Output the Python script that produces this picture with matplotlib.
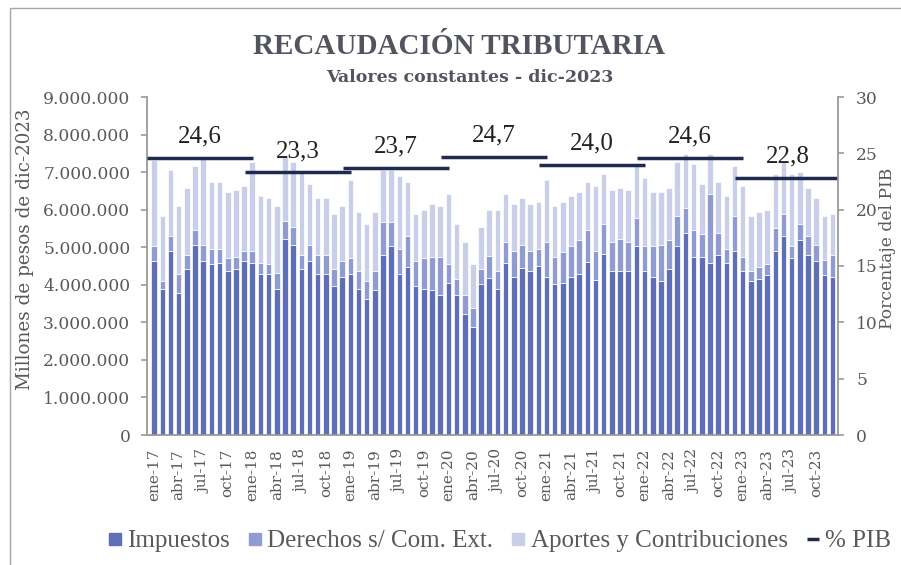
import numpy as np
import matplotlib
matplotlib.use("Agg")
import matplotlib.pyplot as plt
from matplotlib.lines import Line2D
from matplotlib.patches import Rectangle

# valores mensuales (millones de pesos de dic-2023, en millones)
impuestos = [4.64, 3.90, 4.91, 3.79, 4.43, 5.07, 4.64, 4.54, 4.59, 4.38, 4.43, 4.64,
             4.59, 4.28, 4.28, 3.90, 5.23, 5.07, 4.43, 4.64, 4.28, 4.28, 3.96, 4.22,
             4.28, 3.90, 3.63, 3.85, 4.80, 5.02, 4.28, 4.48, 3.96, 3.90, 3.85, 3.74,
             4.06, 3.74, 3.21, 2.88, 4.01, 4.17, 3.90, 4.59, 4.22, 4.44, 4.38, 4.49,
             4.22, 4.01, 4.06, 4.22, 4.28, 4.60, 4.12, 4.81, 4.38, 4.38, 4.38, 5.02,
             4.38, 4.21, 4.11, 4.43, 5.02, 5.39, 4.75, 4.75, 4.59, 4.80, 4.59, 4.91,
             4.38, 4.11, 4.16, 4.27, 4.91, 5.29, 4.70, 5.18, 4.80, 4.64, 4.27, 4.21]
derechos = [0.39, 0.21, 0.38, 0.49, 0.37, 0.38, 0.43, 0.42, 0.37, 0.32, 0.32, 0.27,
            0.32, 0.31, 0.26, 0.42, 0.48, 0.48, 0.37, 0.43, 0.52, 0.52, 0.47, 0.42,
            0.42, 0.48, 0.48, 0.53, 0.86, 0.64, 0.68, 0.81, 0.68, 0.80, 0.90, 1.01,
            0.48, 0.42, 0.53, 0.49, 0.42, 0.59, 0.48, 0.54, 0.69, 0.63, 0.53, 0.47,
            0.91, 0.74, 0.80, 0.80, 0.90, 0.85, 0.79, 0.80, 0.75, 0.85, 0.75, 0.75,
            0.64, 0.81, 0.96, 0.75, 0.80, 0.65, 0.70, 0.59, 1.82, 0.59, 0.37, 0.91,
            0.37, 0.27, 0.32, 0.27, 0.59, 0.59, 0.32, 0.43, 0.49, 0.43, 0.39, 0.58]
aportes = [2.29, 1.71, 1.76, 1.81, 1.77, 1.71, 2.30, 1.77, 1.77, 1.76, 1.77, 1.72,
           2.36, 1.77, 1.76, 1.77, 1.75, 1.72, 2.20, 1.61, 1.50, 1.50, 1.45, 1.45,
           2.09, 1.55, 1.50, 1.55, 1.39, 1.39, 1.93, 1.44, 1.24, 1.28, 1.39, 1.34,
           1.87, 1.45, 1.39, 1.17, 1.12, 1.22, 1.60, 1.28, 1.23, 1.23, 1.23, 1.24,
           1.66, 1.34, 1.34, 1.34, 1.28, 1.28, 1.72, 1.34, 1.39, 1.34, 1.39, 1.39,
           1.82, 1.44, 1.39, 1.39, 1.45, 1.44, 1.76, 1.34, 1.07, 1.34, 1.40, 1.34,
           1.88, 1.44, 1.45, 1.44, 1.45, 1.39, 1.93, 1.39, 1.28, 1.23, 1.16, 1.09]

years = [17, 18, 19, 20, 21, 22, 23]
pib = [24.6, 23.3, 23.7, 24.7, 24.0, 24.6, 22.8]
pib_labels = ["24,6", "23,3", "23,7", "24,7", "24,0", "24,6", "22,8"]
meses = ["ene", "abr", "jul", "oct"]

c_imp = "#5e6fb8"
c_der = "#8f9bd1"
c_apo = "#c9cee9"
c_pib = "#1f2a4e"
c_txt = "#595959"
c_axis = "#9a9a9a"

imp = np.array(impuestos) * 1e6
der = np.array(derechos) * 1e6
apo = np.array(aportes) * 1e6
x = np.arange(len(imp))

fig = plt.figure(figsize=(9.01, 5.65), dpi=100)
ax = fig.add_axes([147 / 901, 1 - 435 / 565, (838 - 147) / 901, (435 - 97) / 565])

bw = 0.68
ax.bar(x, imp, bw, color=c_imp, edgecolor="white", linewidth=0.5)
ax.bar(x, der, bw, bottom=imp, color=c_der, edgecolor="white", linewidth=0.5)
ax.bar(x, apo, bw, bottom=imp + der, color=c_apo, edgecolor="white", linewidth=0.5)

ax.set_xlim(-0.88, 83.67)
ax.set_ylim(0, 9e6)
yt = np.arange(0, 9e6 + 1, 1e6)
ax.set_yticks(yt)
ax.set_yticklabels(["0" if v == 0 else f"{v:,.0f}".replace(",", ".") for v in yt],
                   family="DejaVu Serif", fontsize=12.3, color=c_txt)

xt = x[::3]
xl = [f"{meses[(i // 3) % 4]}-{years[i // 12]}" for i in xt]
ax.set_xticks(xt)
ax.set_xticklabels(xl, rotation=90, family="DejaVu Serif", fontsize=11, color=c_txt)
ax.tick_params(axis="x", length=0, pad=10)
ax.tick_params(axis="y", length=4, color=c_axis, width=1.2, pad=8)

for s in ["top", "right"]:
    ax.spines[s].set_visible(False)
for s in ["left", "bottom"]:
    ax.spines[s].set_color(c_axis)
    ax.spines[s].set_linewidth(1.3)

ax2 = ax.twinx()
ax2.set_ylim(0, 30)
ax2.set_yticks(np.arange(0, 31, 5))
ax2.set_yticklabels([str(v) for v in range(0, 31, 5)],
                    family="DejaVu Serif", fontsize=12.3, color=c_txt)
ax2.tick_params(axis="y", length=4, color=c_axis, width=1.2, pad=9)
for s in ["top", "left", "bottom"]:
    ax2.spines[s].set_visible(False)
ax2.spines["right"].set_color(c_axis)
ax2.spines["right"].set_linewidth(1.3)

for i, (v, lab) in enumerate(zip(pib, pib_labels)):
    x0 = 12 * i - 0.92
    x1 = 12 * i + 12.05
    ax2.hlines(v, x0, x1, color=c_pib, linewidth=2.5)
    ax2.annotate(lab, ((x0 + x1) / 2, v), xytext=(0, 11), textcoords="offset points",
                 ha="center", va="baseline", family="Liberation Serif",
                 fontsize=18, color="#222222")

fig.text(25 / 901, 1 - 249 / 565, "Millones de pesos de dic-2023", rotation=90,
         ha="center", va="center", family="DejaVu Serif", fontsize=13.2, color=c_txt)
fig.text(888 / 901, 1 - 248 / 565, "Porcentaje del PIB", rotation=90,
         ha="center", va="center", family="DejaVu Serif", fontsize=12.3, color=c_txt)

fig.text(459 / 901, 1 - 47 / 565, "RECAUDACIÓN TRIBUTARIA", ha="center", va="center",
         family="Liberation Serif", fontweight="bold", fontsize=21, color="#52555f")
fig.text(470 / 901, 1 - 78 / 565, "Valores constantes - dic-2023", ha="center", va="center",
         family="DejaVu Serif", fontweight="bold", fontsize=12.5, color="#52555f")

handles = [
    Line2D([], [], linestyle="none", marker="s", markersize=9, color=c_imp),
    Line2D([], [], linestyle="none", marker="s", markersize=9, color=c_der),
    Line2D([], [], linestyle="none", marker="s", markersize=9, color=c_apo),
    Line2D([], [], linestyle="none", marker="_", markersize=8, markeredgewidth=2.5,
           color=c_pib),
]
labels = ["Impuestos", "Derechos s/ Com. Ext.", "Aportes y Contribuciones", "% PIB"]
leg = fig.legend(handles, labels, loc="center", bbox_to_anchor=(500 / 901, 1 - 541 / 565),
                 ncol=4, frameon=False, handlelength=0.5, handletextpad=0.25,
                 columnspacing=0.75, borderpad=0, prop={"family": "Liberation Serif", "size": 18})
for t in leg.get_texts():
    t.set_color(c_txt)

fig.patches.append(Rectangle((10 / 901, -0.1), 1.2, 1.1 - 8 / 565,
                             transform=fig.transFigure, fill=False,
                             edgecolor="#a6a6a6", linewidth=1.0))

fig.savefig("out.png", dpi=100)
